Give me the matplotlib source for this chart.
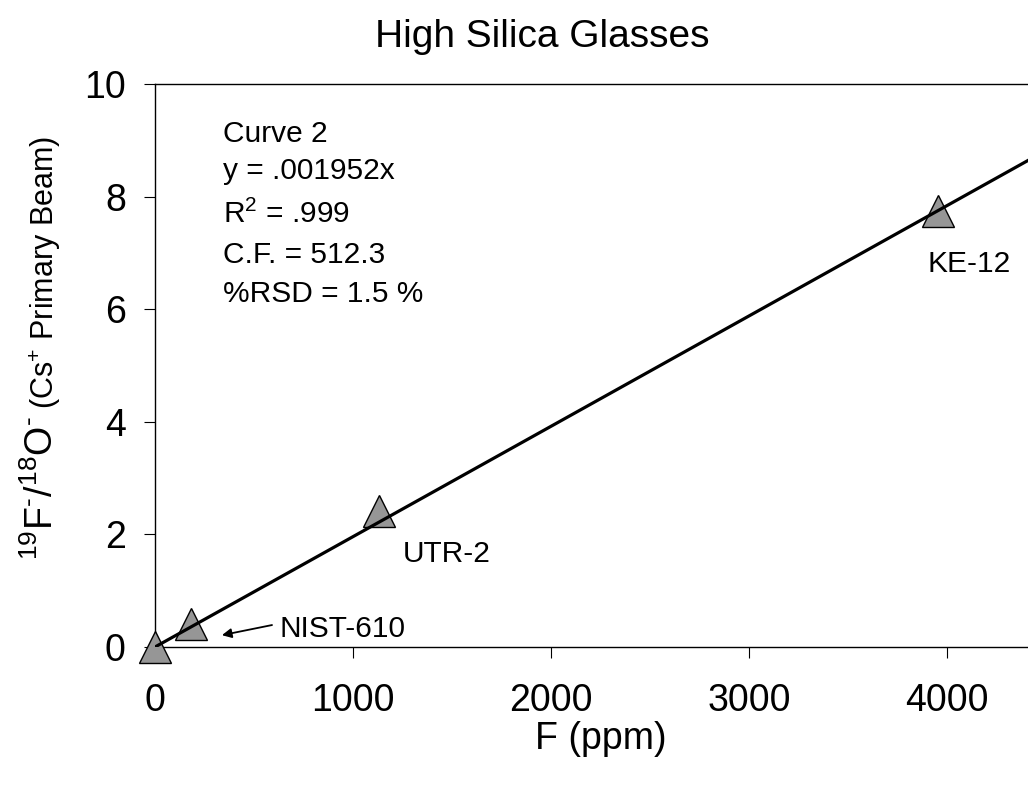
import matplotlib
matplotlib.use("Agg")
import matplotlib.pyplot as plt

plt.rcParams['font.family'] = ['Liberation Sans', 'DejaVu Sans']
plt.rcParams['mathtext.fontset'] = 'custom'
plt.rcParams['mathtext.rm'] = 'Liberation Sans'
plt.rcParams['mathtext.it'] = 'Liberation Sans:italic'
plt.rcParams['mathtext.bf'] = 'Liberation Sans:bold'

# ---- data ----
samples = ["origin", "NIST-610", "UTR-2", "KE-12"]
f_ppm = [0, 180, 1133, 3955]
ratio = [0.0, 0.41, 2.42, 7.74]
fit_x = [0, 4500]
fit_y = [0.0, 8.82]
x_ticks = [0, 1000, 2000, 3000, 4000]
y_ticks = [0, 2, 4, 6, 8, 10]
stats_lines = ["Curve 2", "y = .001952x", r"$\mathregular{R^2}$ = .999",
               "C.F. = 512.3", "%RSD = 1.5 %"]

W, H = 1028, 787
fig = plt.figure(figsize=(W / 100, H / 100), dpi=100)

def fx(px):
    return px / W

def fy(py):
    return (H - py) / H

ax = fig.add_axes([fx(155), fy(647), fx(1046) - fx(155), fy(84) - fy(647)])
ax.set_xlim(0, 4500)
ax.set_ylim(0, 10)

ax.plot(fit_x, fit_y, color='black', lw=2.3, zorder=4, solid_capstyle='butt')
ax.plot(f_ppm, ratio, linestyle='none', marker='^', ms=22.5, mfc='#969696',
        mec='black', mew=1.0, zorder=3, clip_on=False)

ax.set_xticks(x_ticks)
ax.set_yticks(y_ticks)
ax.tick_params(axis='both', direction='out', length=8, width=0.8,
               labelsize=27, colors='black')
ax.tick_params(axis='x', pad=18)
ax.tick_params(axis='y', pad=13)
for side in ['left', 'bottom', 'top']:
    ax.spines[side].set_linewidth(1.0)
    ax.spines[side].set_color('black')
ax.spines['right'].set_visible(False)

# stats text block
baselines = [142, 179, 223, 263, 302]
for line, by in zip(stats_lines, baselines):
    fig.text(fx(223), fy(by), line, fontsize=21.5, ha='left', va='baseline')

# point labels
fig.text(fx(928), fy(272), "KE-12", fontsize=21.5, ha='left', va='baseline')
fig.text(fx(403), fy(562), "UTR-2", fontsize=21.5, ha='left', va='baseline')
fig.text(fx(280), fy(637), "NIST-610", fontsize=21.5, ha='left', va='baseline')
ax.annotate('', xy=(338, 0.21), xytext=(591, 0.39),
            arrowprops=dict(arrowstyle='-|>', lw=1.3, color='black',
                            mutation_scale=14, shrinkA=0, shrinkB=0))

# title and x label
fig.text(fx(542.5), fy(47), "High Silica Glasses", fontsize=28,
         ha='center', va='baseline')
fig.text(fx(601), fy(749), "F (ppm)", fontsize=27, ha='center', va='baseline')

# y label (two sizes)
big = fig.text(fx(53), fy(560), "$\\mathregular{^{19}F^{\u2010}/^{18}O^{\u2010}}$",
               fontsize=27, rotation=90, rotation_mode='anchor',
               ha='left', va='baseline')
fig.canvas.draw()
bb = big.get_window_extent(renderer=fig.canvas.get_renderer())
top_px = H - bb.y1
fig.text(fx(54), fy(top_px - 7), r"(Cs$\mathregular{^{+}}$ Primary Beam)",
         fontsize=22, rotation=90, rotation_mode='anchor',
         ha='left', va='baseline')

fig.savefig("out.png", dpi=100)
